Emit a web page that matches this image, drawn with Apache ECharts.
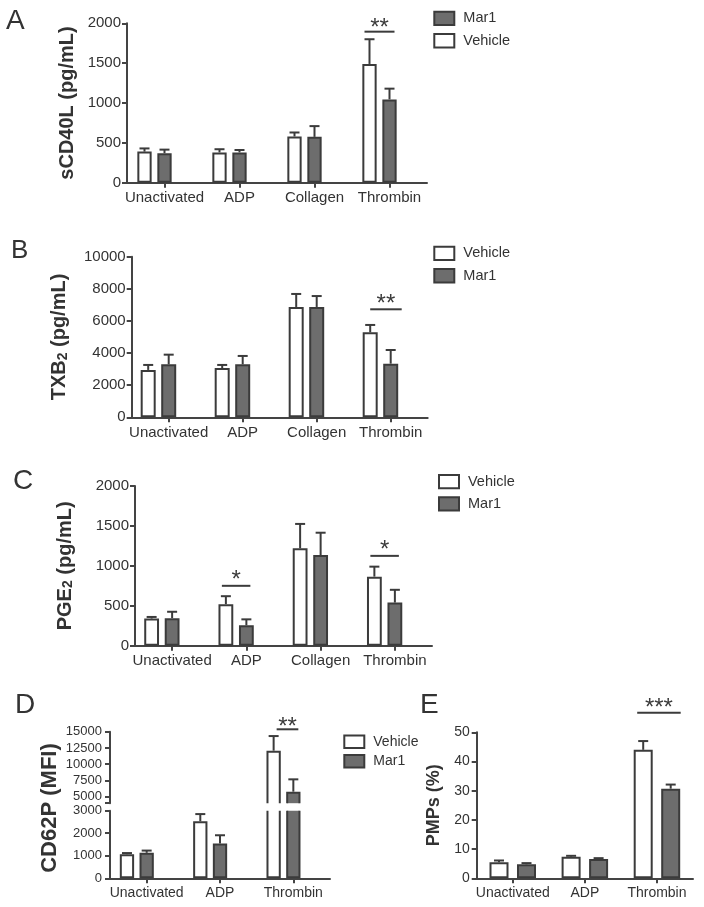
<!DOCTYPE html>
<html><head><meta charset="utf-8">
<script src="https://cdn.jsdelivr.net/npm/echarts@6/dist/echarts.min.js"></script>
<style>html,body{margin:0;padding:0;background:#fff}#c{width:704px;height:907px}</style>
</head><body><div id="c"></div>
<script>
// ---------- data ----------
const cats4 = ['Unactivated', 'ADP', 'Collagen', 'Thrombin'];
const cats3 = ['Unactivated', 'ADP', 'Thrombin'];

// A: sCD40L (pg/mL)
const aVehicle = [390, 380, 580, 1490];
const aVehicleErr = [40, 40, 50, 310];
const aMar1 = [370, 380, 575, 1045];
const aMar1Err = [45, 30, 135, 135];
const aSig = [[3, 1895, '**']];

// B: TXB2 (pg/mL)
const bVehicle = [2950, 3070, 6870, 5290];
const bVehicleErr = [310, 190, 810, 460];
const bMar1 = [3300, 3300, 6870, 3340];
const bMar1Err = [600, 520, 680, 850];
const bSig = [[3, 6725, '**']];

// C: PGE2 (pg/mL)
const cVehicle = [340, 520, 1220, 865];
const cVehicleErr = [20, 100, 305, 125];
const cMar1 = [345, 255, 1135, 540];
const cMar1Err = [80, 75, 280, 160];
const cSig = [[1, 750, '*'], [3, 1125, '*']];

// D: CD62P (MFI)
const dVehicle = [1070, 2530, 12080];
const dVehicleErr = [50, 320, 2250];
const dMar1 = [1130, 1540, 5770];
const dMar1Err = [100, 370, 1900];
const dSig = [[2, 15370, '**']];
const dHighTicks = [5000, 7500, 10000, 12500, 15000];

// E: PMPs (%)
const eVehicle = [5.5, 7.4, 44.0];
const eVehicleErr = [0.6, 0.3, 3.0];
const eMar1 = [4.8, 6.6, 30.7];
const eMar1Err = [0.4, 0.3, 1.4];
const eSig = [[2, 56.7, '***']];

// ---------- style ----------
const INK = '#3b3b3b', GRAY = '#6d6d6d', TXT = '#333333', AXIS = '#444444';
const FONT = '"Liberation Sans", Arial, Helvetica, sans-serif';
const dLowMax = 3000, dHighMin = 4000;
const plain = v => String(v);

const grids = [
  {left: 127, top: 23.3, width: 300, height: 159.4},    // A
  {left: 131.7, top: 256.7, width: 296, height: 160.6}, // B
  {left: 135, top: 486, width: 297, height: 159.7},     // C
  {left: 110, top: 731.7, width: 220, height: 71.5},    // D upper
  {left: 110, top: 810.7, width: 220, height: 67.6},    // D lower
  {left: 476.7, top: 732.3, width: 216.3, height: 146}  // E
].map(g => Object.assign(g, {containLabel: false, outerBoundsMode: 'none'}));

function xAxis(gi, data, fs, show) {
  return {
    type: 'category', gridIndex: gi, data: data, show: show !== false,
    axisLine: {show: true, lineStyle: {color: AXIS, width: 2}},
    axisTick: {show: true, alignWithLabel: true, length: 5, lineStyle: {color: AXIS, width: 2}},
    axisLabel: {fontSize: fs, color: TXT, margin: 8, interval: 0, fontFamily: FONT},
    splitLine: {show: false}
  };
}
function yAxis(gi, min, max, interval, fs, margin, extra, nameFs) {
  const nf = nameFs || 20;
  const ax = {
    type: 'value', gridIndex: gi, min: min, max: max, interval: interval,
    axisLine: {show: true, lineStyle: {color: AXIS, width: 2}},
    axisTick: {show: true, length: 5, lineStyle: {color: AXIS, width: 2}},
    axisLabel: {fontSize: fs, color: TXT, margin: margin, fontFamily: FONT, formatter: plain},
    splitLine: {show: false},
    nameTextStyle: {fontSize: nf, fontWeight: 'bold', color: TXT, fontFamily: FONT,
      rich: {s: {fontSize: 14, fontWeight: 'bold', color: TXT, fontFamily: FONT, verticalAlign: 'bottom', lineHeight: 14}}}
  };
  return Object.assign(ax, extra || {});
}

function bar(name, data, gi, W, d, fill) {
  return {type: 'bar', name: name, data: data, xAxisIndex: gi, yAxisIndex: gi,
    barWidth: W, barGap: ((d - W) / W * 100).toFixed(1) + '%',
    itemStyle: {color: fill, borderColor: INK, borderWidth: 2},
    silent: true, emphasis: {disabled: true}, z: 2};
}
function spacer(gi, W, d, n) {
  return {type: 'bar', name: 'spacer' + gi, data: new Array(n).fill('-'), xAxisIndex: gi, yAxisIndex: gi,
    barWidth: W, barGap: ((d - W) / W * 100).toFixed(1) + '%', silent: true, itemStyle: {color: 'none'}};
}
function errSeries(gi, vals, errs, offset, keep) {
  const data = [];
  vals.forEach((v, i) => { if (!keep || keep(v)) data.push([i, v, errs[i]]); });
  return {type: 'custom', name: 'err' + gi + '_' + offset, xAxisIndex: gi, yAxisIndex: gi, data: data, silent: true, z: 4,
    renderItem: function (params, api) {
      const cat = api.value(0), m = api.value(1), e = api.value(2);
      const p0 = api.coord([cat, m]), p1 = api.coord([cat, m + e]);
      const x = p0[0] + offset;
      return {type: 'group', children: [
        {type: 'line', shape: {x1: x, y1: p0[1], x2: x, y2: p1[1]}, style: {stroke: INK, lineWidth: 2}},
        {type: 'line', shape: {x1: x - 5, y1: p1[1], x2: x + 5, y2: p1[1]}, style: {stroke: INK, lineWidth: 2}}
      ]};
    }};
}
function sigSeries(gi, arr, vOff, mOff, l, r, fs, up) {
  return {type: 'custom', name: 'sig' + gi, xAxisIndex: gi, yAxisIndex: gi, silent: true, z: 5,
    data: arr.map(s => [s[0], s[1]]),
    renderItem: function (params, api) {
      const p = api.coord([api.value(0), api.value(1)]);
      const x1 = p[0] + vOff + l, x2 = p[0] + mOff + r;
      return {type: 'group', children: [
        {type: 'line', shape: {x1: x1, y1: p[1], x2: x2, y2: p[1]}, style: {stroke: INK, lineWidth: 2}},
        {type: 'text', x: (x1 + x2) / 2, y: p[1] - up, style: {text: arr[params.dataIndex][2], fontSize: fs,
          fill: INK, align: 'center', verticalAlign: 'middle', fontFamily: FONT}}
      ]};
    }};
}
// broken bars for panel D (Thrombin passes the axis break)
function brokenLower(vals, offset, W, fill) {
  const data = [];
  vals.forEach((v, i) => { if (v > dLowMax) data.push([i, v]); });
  return {type: 'custom', name: 'bl' + offset, xAxisIndex: 4, yAxisIndex: 4, data: data, silent: true, z: 3,
    renderItem: function (params, api) {
      const p0 = api.coord([api.value(0), 0]);
      const top = params.coordSys.y, x = p0[0] + offset, h = W / 2 - 1, b = p0[1] - 1;
      return {type: 'group', children: [
        {type: 'rect', shape: {x: x - h, y: top, width: 2 * h, height: b - top}, style: {fill: fill}},
        {type: 'polyline', shape: {points: [[x - h, top], [x - h, b], [x + h, b], [x + h, top]]},
          style: {stroke: INK, lineWidth: 2, fill: 'none'}}
      ]};
    }};
}
function brokenUpper(vals, errs, offset, W, fill) {
  const data = [];
  vals.forEach((v, i) => { if (v > dLowMax) data.push([i, v, errs[i]]); });
  return {type: 'custom', name: 'bu' + offset, xAxisIndex: 3, yAxisIndex: 3, data: data, silent: true, z: 3,
    renderItem: function (params, api) {
      const cat = api.value(0), v = api.value(1), e = api.value(2);
      const pv = api.coord([cat, v]), pe = api.coord([cat, v + e]);
      const bot = params.coordSys.y + params.coordSys.height, x = pv[0] + offset, h = W / 2 - 1, t = pv[1] + 1;
      return {type: 'group', children: [
        {type: 'rect', shape: {x: x - h, y: t, width: 2 * h, height: bot - t}, style: {fill: fill}},
        {type: 'polyline', shape: {points: [[x - h, bot], [x - h, t], [x + h, t], [x + h, bot]]},
          style: {stroke: INK, lineWidth: 2, fill: 'none'}},
        {type: 'line', shape: {x1: x, y1: pv[1], x2: x, y2: pe[1]}, style: {stroke: INK, lineWidth: 2}},
        {type: 'line', shape: {x1: x - 5, y1: pe[1], x2: x + 5, y2: pe[1]}, style: {stroke: INK, lineWidth: 2}}
      ]};
    }};
}

// bar geometry per panel: W = outer bar width, d = centre distance
const gA = {W: 14.3, d: 20}, gB = {W: 15, d: 20.5}, gC = {W: 14.8, d: 20.5}, gD = {W: 14.3, d: 19.7}, gE = {W: 19, d: 27.5};

const series = [
  // A
  bar('Vehicle', aVehicle, 0, gA.W, gA.d, '#ffffff'), bar('Mar1', aMar1, 0, gA.W, gA.d, GRAY), spacer(0, gA.W, gA.d, 4),
  errSeries(0, aVehicle, aVehicleErr, -gA.d), errSeries(0, aMar1, aMar1Err, 0),
  sigSeries(0, aSig, -gA.d, 0, -5, 5, 24, 3),
  // B
  bar('Vehicle', bVehicle, 1, gB.W, gB.d, '#ffffff'), bar('Mar1', bMar1, 1, gB.W, gB.d, GRAY), spacer(1, gB.W, gB.d, 4),
  errSeries(1, bVehicle, bVehicleErr, -gB.d), errSeries(1, bMar1, bMar1Err, 0),
  sigSeries(1, bSig, -gB.d, 0, 0, 11, 24, 5),
  // C
  bar('Vehicle', cVehicle, 2, gC.W, gC.d, '#ffffff'), bar('Mar1', cMar1, 2, gC.W, gC.d, GRAY), spacer(2, gC.W, gC.d, 4),
  errSeries(2, cVehicle, cVehicleErr, -gC.d), errSeries(2, cMar1, cMar1Err, 0),
  sigSeries(2, cSig, -gC.d, 0, -4, 4, 24, 5),
  // D lower
  bar('Vehicle', dVehicle.map(v => v <= dLowMax ? v : '-'), 4, gD.W, gD.d, '#ffffff'),
  bar('Mar1', dMar1.map(v => v <= dLowMax ? v : '-'), 4, gD.W, gD.d, GRAY), spacer(4, gD.W, gD.d, 3),
  errSeries(4, dVehicle, dVehicleErr, -gD.d, v => v <= dLowMax), errSeries(4, dMar1, dMar1Err, 0, v => v <= dLowMax),
  brokenLower(dVehicle, -gD.d, gD.W, '#ffffff'), brokenLower(dMar1, 0, gD.W, GRAY),
  // D upper
  brokenUpper(dVehicle, dVehicleErr, -gD.d, gD.W, '#ffffff'), brokenUpper(dMar1, dMar1Err, 0, gD.W, GRAY),
  sigSeries(3, dSig, -gD.d, 0, 3, 5, 24, 2),
  // E
  bar('Vehicle', eVehicle, 5, gE.W, gE.d, '#ffffff'), bar('Mar1', eMar1, 5, gE.W, gE.d, GRAY),
  errSeries(5, eVehicle, eVehicleErr, -gE.d / 2), errSeries(5, eMar1, eMar1Err, gE.d / 2),
  sigSeries(5, eSig, -gE.d / 2, gE.d / 2, -6, 10, 24, 4)
];

function legend(left, top, names, fs, ih, gap) {
  return {left: left, top: top, orient: 'vertical', data: names, padding: 0, icon: 'rect',
    itemWidth: 20, itemHeight: ih, itemGap: gap, selectedMode: false,
    itemStyle: {borderColor: INK, borderWidth: 2},
    textStyle: {fontSize: fs, color: TXT, fontFamily: FONT, padding: [0, 0, 0, 4]}};
}

const option = {
  animation: false,
  textStyle: {fontFamily: FONT},
  grid: grids,
  xAxis: [
    xAxis(0, cats4, 15), xAxis(1, cats4, 15), xAxis(2, cats4, 15),
    xAxis(3, cats3, 14, false), xAxis(4, cats3, 14), xAxis(5, cats3, 14)
  ],
  yAxis: [
    yAxis(0, 0, 2000, 500, 15, 6, {name: 'sCD40L (pg/mL)', nameLocation: 'middle', nameRotate: 90, nameGap: 50}),
    yAxis(1, 0, 10000, 2000, 15, 6, {name: 'TXB{s|2} (pg/mL)', nameLocation: 'middle', nameRotate: 90, nameGap: 62}),
    yAxis(2, 0, 2000, 500, 15, 6, {name: 'PGE{s|2} (pg/mL)', nameLocation: 'middle', nameRotate: 90, nameGap: 60}),
    yAxis(3, dHighMin, 15000, null, 13, 8, {
      axisLabel: {fontSize: 13, color: TXT, margin: 8, fontFamily: FONT, formatter: plain, customValues: dHighTicks},
      axisTick: {show: true, length: 5, lineStyle: {color: AXIS, width: 2}, customValues: [dHighMin].concat(dHighTicks)}
    }),
    yAxis(4, 0, dLowMax, 1000, 13, 8),
    yAxis(5, 0, 50, 10, 14, 7, {name: 'PMPs (%)', nameLocation: 'middle', nameRotate: 90, nameGap: 34}, 18)
  ],
  legend: [
    legend(433.3, 10.8, ['Mar1', 'Vehicle'], 14.5, 13.3, 7),
    legend(433.3, 245.8, ['Vehicle', 'Mar1'], 14.5, 13.3, 7),
    legend(438, 474, ['Vehicle', 'Mar1'], 14.5, 13.3, 7),
    legend(343.3, 734.5, ['Vehicle', 'Mar1'], 14, 12.5, 5)
  ],
  graphic: [
    {type: 'text', x: 6, y: 21.7, style: {text: 'A', fontSize: 28, fill: TXT, fontFamily: FONT, verticalAlign: 'middle'}},
    {type: 'text', x: 11, y: 250.8, style: {text: 'B', fontSize: 26, fill: TXT, fontFamily: FONT, verticalAlign: 'middle'}},
    {type: 'text', x: 13, y: 481.7, style: {text: 'C', fontSize: 28, fill: TXT, fontFamily: FONT, verticalAlign: 'middle'}},
    {type: 'text', x: 15, y: 705, style: {text: 'D', fontSize: 28, fill: TXT, fontFamily: FONT, verticalAlign: 'middle'}},
    {type: 'text', x: 420, y: 705, style: {text: 'E', fontSize: 28, fill: TXT, fontFamily: FONT, verticalAlign: 'middle'}},
    {type: 'text', x: 50, y: 808, rotation: Math.PI / 2,
      style: {text: 'CD62P (MFI)', fontSize: 22, fontWeight: 'bold', fill: TXT, fontFamily: FONT, align: 'center', verticalAlign: 'middle'}}
  ],
  series: series
};

const chart = echarts.init(document.getElementById('c'), null, {renderer: 'canvas', width: 704, height: 907});
chart.setOption(option);
</script>
</body></html>
